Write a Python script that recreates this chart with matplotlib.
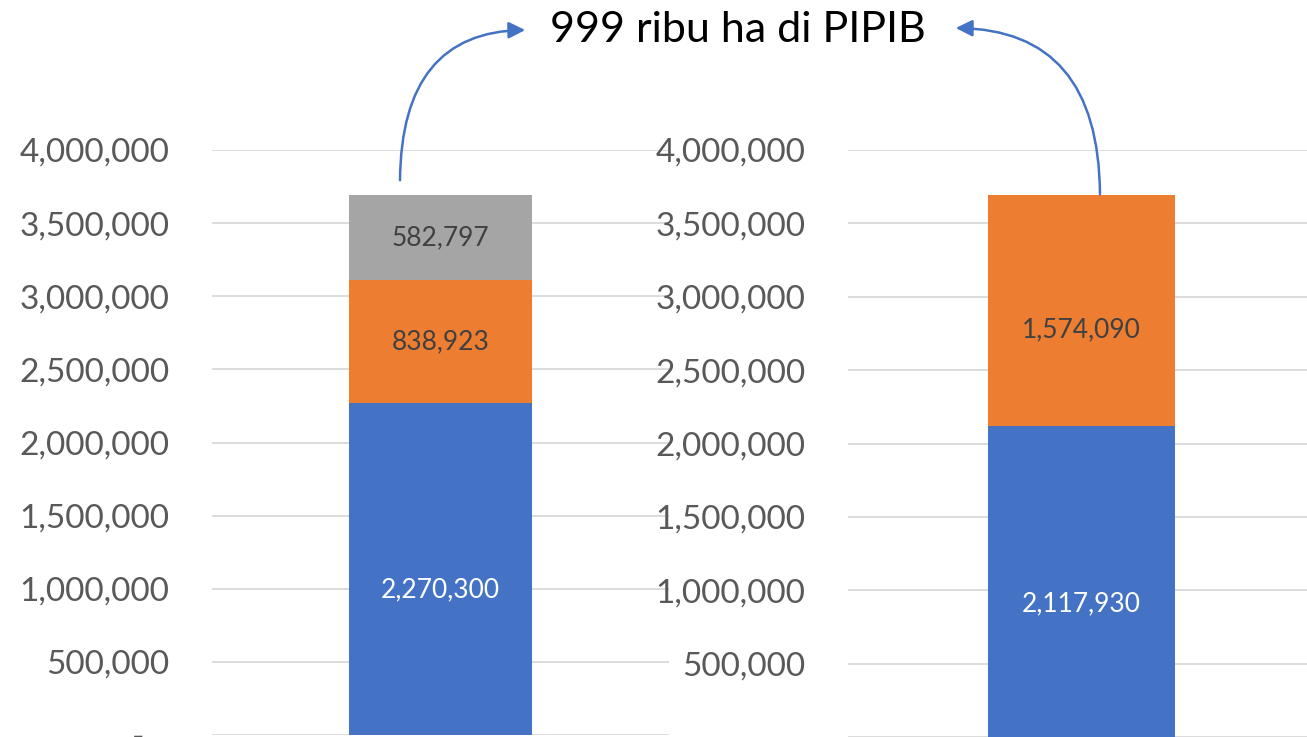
import matplotlib
matplotlib.use("Agg")
import matplotlib.pyplot as plt
from matplotlib.patches import FancyArrowPatch
from matplotlib.ticker import FuncFormatter

plt.rcParams['font.family'] = ['Lato', 'DejaVu Sans']

# Data
left_values = [2270300, 838923, 582797]
right_values = [2117930, 1574090]
seg_colors = ['#4472C4', '#ED7D31', '#A5A5A5']
label_colors = ['white', '#404040', '#404040']
yticks = [0, 500000, 1000000, 1500000, 2000000, 2500000, 3000000, 3500000, 4000000]
title_text = "999 ribu ha di PIPIB"

W, H = 1307, 737
fig = plt.figure(figsize=(W / 100, H / 100), dpi=100)

def fmt(v, pos):
    return "-   " if v == 0 else f"{int(v):,}"

def make_axes(rect, values, label_offsets):
    ax = fig.add_axes(rect)
    ax.set_xlim(-0.5, 0.5)
    ax.set_ylim(0, 4000000)
    ax.set_yticks(yticks)
    ax.yaxis.set_major_formatter(FuncFormatter(fmt))
    ax.tick_params(axis='y', length=0, pad=30.5, labelsize=24, labelcolor='#595959')
    ax.tick_params(axis='x', length=0, labelbottom=False)
    ax.grid(axis='y', color='#D9D9D9', linewidth=1.3)
    ax.set_axisbelow(True)
    for s in ax.spines.values():
        s.set_visible(False)
    bottom = 0
    for i, v in enumerate(values):
        ax.bar(0, v, width=0.4, bottom=bottom, color=seg_colors[i], zorder=2)
        ax.annotate(f"{v:,}", xy=(0, bottom + v / 2), xytext=(0, label_offsets[i]),
                    textcoords='offset pixels', ha='center', va='center',
                    fontsize=19, color=label_colors[i], zorder=3)
        bottom += v
    return ax

ax1 = make_axes([212 / W, 2 / H, 457 / W, 585 / H], left_values, [-21, 0, 0])
ax2 = make_axes([848 / W, 0 / H, 467 / W, 587 / H], right_values, [-22, -19])

fig.text(738 / W, 1 - 30 / H, title_text, ha='center', va='center', fontsize=31, color='black')

arrow_color = '#4472C4'
a1 = FancyArrowPatch((400 / W, 1 - 183 / H), (528 / W, 1 - 30 / H),
                     transform=fig.transFigure, connectionstyle="angle3,angleA=90,angleB=0",
                     arrowstyle='-|>,head_length=10,head_width=5', color=arrow_color, linewidth=1.8)
a2 = FancyArrowPatch((1100 / W, 1 - 197 / H), (953 / W, 1 - 28 / H),
                     transform=fig.transFigure, connectionstyle="angle3,angleA=90,angleB=0",
                     arrowstyle='-|>,head_length=10,head_width=5', color=arrow_color, linewidth=1.8)
fig.patches.extend([a1, a2])

fig.savefig("out.png", dpi=100, facecolor='white')
